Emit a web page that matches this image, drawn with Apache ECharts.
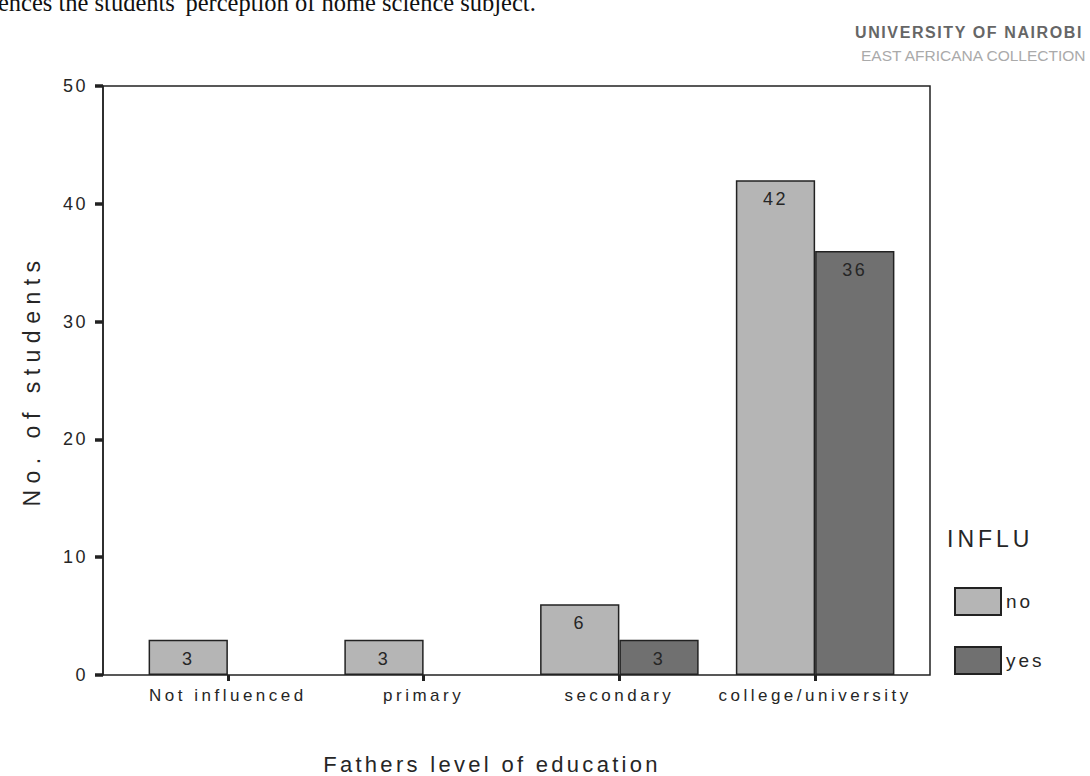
<!DOCTYPE html>
<html>
<head>
<meta charset="utf-8">
<script src="https://cdn.jsdelivr.net/npm/echarts@6/dist/echarts.min.js"></script>
<style>
html,body{margin:0;padding:0;background:#fff;}
#chart{width:1090px;height:776px;}
</style>
</head>
<body>
<div id="chart"></div>
<script>
// ---- data ----
const categories = ['Not influenced', 'primary', 'secondary', 'college/university'];
const noValues = [3, 3, 6, 42];
const yesValues = [null, null, 3, 36];
const seriesNames = ['no', 'yes'];
const yTicks = { min: 0, max: 50, interval: 10 };
const xAxisTitle = 'Fathers level of education';
const yAxisTitle = 'No. of students';
const legendTitle = 'INFLU';
const pageText = "ences the students' perception of home science subject.";
const stampLine1 = 'UNIVERSITY OF NAIROBI';
const stampLine2 = 'EAST AFRICANA COLLECTION';

const FONT = 'Liberation Sans, Arial, sans-serif';
const TXT = '#262626';
const dom = document.getElementById('chart');
const chart = echarts.init(dom, null, { renderer: 'svg' });

const labelCfg = {
  show: true, position: 'insideTop', distance: 10,
  color: TXT, fontSize: 18, fontFamily: FONT
};

chart.setOption({
  animation: false,
  backgroundColor: '#ffffff',
  textStyle: { fontFamily: FONT },
  grid: [
    { left: 103, top: 86, width: 827, height: 589, show: true,
      borderColor: '#222', borderWidth: 1.5, backgroundColor: 'transparent' },
    { left: 130, top: 86, width: 783, height: 589 }
  ],
  xAxis: [
    { type: 'value', gridIndex: 0, show: false, min: 0, max: 1 },
    { type: 'category', gridIndex: 1, data: categories,
      axisLine: { show: false },
      axisTick: { show: true, alignWithLabel: true, length: 6,
        lineStyle: { color: '#222', width: 3 } },
      axisLabel: { fontSize: 17, color: TXT, margin: 12, fontFamily: FONT },
      splitLine: { show: false } }
  ],
  yAxis: [
    { type: 'value', gridIndex: 0, min: yTicks.min, max: yTicks.max, interval: yTicks.interval,
      axisLine: { show: true, lineStyle: { color: '#222', width: 1.5 } },
      axisTick: { show: true, length: 8, lineStyle: { color: '#222', width: 3.5 } },
      axisLabel: { fontSize: 18, color: TXT, margin: 15, fontFamily: FONT },
      splitLine: { show: false },
      name: yAxisTitle, nameLocation: 'middle', nameGap: 60,
      nameTextStyle: { fontSize: 23, color: TXT, fontFamily: FONT } },
    { type: 'value', gridIndex: 1, min: yTicks.min, max: yTicks.max, show: false }
  ],
  legend: {
    data: seriesNames, orient: 'vertical', left: 954, top: 587,
    itemWidth: 46, itemHeight: 27, itemGap: 30, icon: 'rect', padding: 0,
    textStyle: { fontSize: 19, color: TXT, fontFamily: FONT, padding: [4, 0, 0, 0] }
  },
  graphic: [
    { type: 'text', left: 947, top: 527,
      style: { text: legendTitle, fontSize: 23, fill: TXT, fontFamily: FONT } },
    { type: 'text', x: 492, y: 775,
      style: { text: xAxisTitle, fontSize: 22, fill: TXT, fontFamily: FONT,
        align: 'center', verticalAlign: 'bottom' } },
    { type: 'text', x: -2, y: 15,
      style: { text: pageText, fontSize: 24.5, fill: '#111',
        fontFamily: 'Liberation Serif, Times New Roman, serif', verticalAlign: 'bottom' } },
    { type: 'text', x: 855, y: 24,
      style: { text: stampLine1, fontSize: 16, fontWeight: 'bold', fill: '#666', fontFamily: FONT } },
    { type: 'text', x: 861, y: 47,
      style: { text: stampLine2, fontSize: 15.5, fill: '#aaa', fontFamily: FONT } }
  ],
  series: [
    { name: seriesNames[0], type: 'bar', xAxisIndex: 1, yAxisIndex: 1, data: noValues,
      barGap: '0%', barCategoryGap: '19%',
      itemStyle: { color: '#b5b5b5', borderColor: '#222', borderWidth: 1.5 },
      label: labelCfg },
    { name: seriesNames[1], type: 'bar', xAxisIndex: 1, yAxisIndex: 1, data: yesValues,
      barGap: '0%', barCategoryGap: '19%',
      itemStyle: { color: '#707070', borderColor: '#222', borderWidth: 1.5 },
      label: labelCfg }
  ]
});

// letter spacing like the scanned SPSS chart (SVG text stays real text)
const spacingFor = function (t) {
  if (t === yAxisTitle) return 6.5;
  if (t === xAxisTitle) return 3.3;
  if (t === pageText) return 0;
  if (t === stampLine1) return 1.6;
  if (t === stampLine2) return 0;
  if (t === legendTitle) return 4;
  if (categories.indexOf(t) >= 0) return 3.5;
  if (seriesNames.indexOf(t) >= 0) return 3;
  return 2.5;
};
function applySpacing() {
  dom.querySelectorAll('text').forEach(function (el) {
    const s = spacingFor(el.textContent);
    el.setAttribute('letter-spacing', s + 'px');
  });
}
applySpacing();
chart.on('finished', applySpacing);
new MutationObserver(applySpacing).observe(dom, { childList: true, subtree: true });
</script>
</body>
</html>
